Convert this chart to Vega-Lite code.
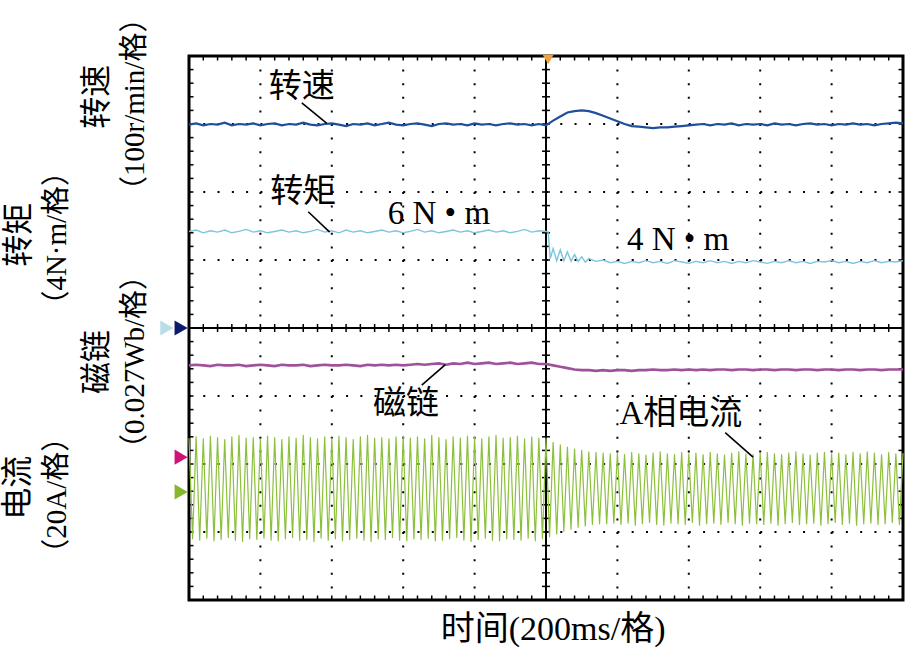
{
  "$schema": "https://vega.github.io/schema/vega-lite/v6.json",
  "width": 714,
  "height": 544,
  "autosize": {"type": "none"},
  "padding": {"left": 189, "top": 56, "right": 2, "bottom": 54},
  "background": "white",
  "view": {"stroke": "#000000", "strokeWidth": 3},
  "config": {"text": {"font": "Liberation Serif, Noto Sans CJK SC", "color": "#000000"}},
  "datasets": {
    "vgrid": [{"x":1,"y":4,"x2":1,"y2":-4},{"x":2,"y":4,"x2":2,"y2":-4},{"x":3,"y":4,"x2":3,"y2":-4},{"x":4,"y":4,"x2":4,"y2":-4},{"x":6,"y":4,"x2":6,"y2":-4},{"x":7,"y":4,"x2":7,"y2":-4},{"x":8,"y":4,"x2":8,"y2":-4},{"x":9,"y":4,"x2":9,"y2":-4}],
    "hgrid": [{"x":0,"y":3,"x2":10,"y2":3},{"x":0,"y":2,"x2":10,"y2":2},{"x":0,"y":1,"x2":10,"y2":1},{"x":0,"y":-1,"x2":10,"y2":-1},{"x":0,"y":-2,"x2":10,"y2":-2},{"x":0,"y":-3,"x2":10,"y2":-3}],
    "cross": [{"x":5,"y":4,"x2":5,"y2":-4},{"x":0,"y":0,"x2":10,"y2":0}],
    "xminor": [{"m":0.2},{"m":0.4},{"m":0.6},{"m":0.8},{"m":1},{"m":1.2},{"m":1.4},{"m":1.6},{"m":1.8},{"m":2},{"m":2.2},{"m":2.4},{"m":2.6},{"m":2.8},{"m":3},{"m":3.2},{"m":3.4},{"m":3.6},{"m":3.8},{"m":4},{"m":4.2},{"m":4.4},{"m":4.6},{"m":4.8},{"m":5},{"m":5.2},{"m":5.4},{"m":5.6},{"m":5.8},{"m":6},{"m":6.2},{"m":6.4},{"m":6.6},{"m":6.8},{"m":7},{"m":7.2},{"m":7.4},{"m":7.6},{"m":7.8},{"m":8},{"m":8.2},{"m":8.4},{"m":8.6},{"m":8.8},{"m":9},{"m":9.2},{"m":9.4},{"m":9.6},{"m":9.8}],
    "yminor": [{"m":-3.8},{"m":-3.6},{"m":-3.4},{"m":-3.2},{"m":-3},{"m":-2.8},{"m":-2.6},{"m":-2.4},{"m":-2.2},{"m":-2},{"m":-1.8},{"m":-1.6},{"m":-1.4},{"m":-1.2},{"m":-1},{"m":-0.8},{"m":-0.6},{"m":-0.4},{"m":-0.2},{"m":0},{"m":0.2},{"m":0.4},{"m":0.6},{"m":0.8},{"m":1},{"m":1.2},{"m":1.4},{"m":1.6},{"m":1.8},{"m":2},{"m":2.2},{"m":2.4},{"m":2.6},{"m":2.8},{"m":3},{"m":3.2},{"m":3.4},{"m":3.6},{"m":3.8}],
    "speed": [{"x":0,"y":2.99},{"x":0.1,"y":3.01},{"x":0.2,"y":2.98},{"x":0.3,"y":3.0},{"x":0.4,"y":2.99},{"x":0.5,"y":3.02},{"x":0.6,"y":2.98},{"x":0.7,"y":3.0},{"x":0.8,"y":2.99},{"x":0.9,"y":3.01},{"x":1.0,"y":2.98},{"x":1.1,"y":3.0},{"x":1.2,"y":3.01},{"x":1.3,"y":2.98},{"x":1.4,"y":3.0},{"x":1.5,"y":2.99},{"x":1.6,"y":3.02},{"x":1.7,"y":2.99},{"x":1.8,"y":2.98},{"x":1.9,"y":3.0},{"x":2.0,"y":3.01},{"x":2.1,"y":2.99},{"x":2.2,"y":2.97},{"x":2.3,"y":3.0},{"x":2.4,"y":2.99},{"x":2.5,"y":3.01},{"x":2.6,"y":2.98},{"x":2.7,"y":3.0},{"x":2.8,"y":3.02},{"x":2.9,"y":2.99},{"x":3.0,"y":2.98},{"x":3.1,"y":3.0},{"x":3.2,"y":3.01},{"x":3.3,"y":2.99},{"x":3.4,"y":2.97},{"x":3.5,"y":3.0},{"x":3.6,"y":3.01},{"x":3.7,"y":2.99},{"x":3.8,"y":3.0},{"x":3.9,"y":2.98},{"x":4.0,"y":3.01},{"x":4.1,"y":2.99},{"x":4.2,"y":3.0},{"x":4.3,"y":2.98},{"x":4.4,"y":3.0},{"x":4.5,"y":3.01},{"x":4.6,"y":2.99},{"x":4.7,"y":3.0},{"x":4.8,"y":2.98},{"x":4.9,"y":3.0},{"x":5.0,"y":2.98},{"x":5.1,"y":3.05},{"x":5.2,"y":3.11},{"x":5.3,"y":3.17},{"x":5.4,"y":3.19},{"x":5.5,"y":3.2},{"x":5.6,"y":3.19},{"x":5.7,"y":3.16},{"x":5.8,"y":3.12},{"x":5.9,"y":3.08},{"x":6.0,"y":3.04},{"x":6.1,"y":3.0},{"x":6.2,"y":2.97},{"x":6.3,"y":2.96},{"x":6.4,"y":2.95},{"x":6.5,"y":2.94},{"x":6.6,"y":2.95},{"x":6.7,"y":2.95},{"x":6.8,"y":2.96},{"x":6.9,"y":2.97},{"x":7.0,"y":2.98},{"x":7.1,"y":2.99},{"x":7.2,"y":3.0},{"x":7.3,"y":2.98},{"x":7.4,"y":3.0},{"x":7.5,"y":2.99},{"x":7.6,"y":3.01},{"x":7.7,"y":2.98},{"x":7.8,"y":3.0},{"x":7.9,"y":2.99},{"x":8.0,"y":3.0},{"x":8.1,"y":2.98},{"x":8.2,"y":3.01},{"x":8.3,"y":2.99},{"x":8.4,"y":3.0},{"x":8.5,"y":2.98},{"x":8.6,"y":3.0},{"x":8.7,"y":3.01},{"x":8.8,"y":2.99},{"x":8.9,"y":3.0},{"x":9.0,"y":2.98},{"x":9.1,"y":3.0},{"x":9.2,"y":2.99},{"x":9.3,"y":3.01},{"x":9.4,"y":2.99},{"x":9.5,"y":3.0},{"x":9.6,"y":2.98},{"x":9.7,"y":3.0},{"x":9.8,"y":3.01},{"x":9.9,"y":3.02},{"x":10.0,"y":3.01}],
    "torque": [{"x":0,"y":1.42},{"x":0.1,"y":1.44},{"x":0.2,"y":1.40},{"x":0.3,"y":1.43},{"x":0.4,"y":1.41},{"x":0.5,"y":1.44},{"x":0.6,"y":1.40},{"x":0.7,"y":1.42},{"x":0.8,"y":1.45},{"x":0.9,"y":1.41},{"x":1.0,"y":1.43},{"x":1.1,"y":1.40},{"x":1.2,"y":1.42},{"x":1.3,"y":1.44},{"x":1.4,"y":1.41},{"x":1.5,"y":1.43},{"x":1.6,"y":1.40},{"x":1.7,"y":1.42},{"x":1.8,"y":1.45},{"x":1.9,"y":1.41},{"x":2.0,"y":1.43},{"x":2.1,"y":1.40},{"x":2.2,"y":1.44},{"x":2.3,"y":1.41},{"x":2.4,"y":1.43},{"x":2.5,"y":1.40},{"x":2.6,"y":1.42},{"x":2.7,"y":1.44},{"x":2.8,"y":1.41},{"x":2.9,"y":1.43},{"x":3.0,"y":1.40},{"x":3.1,"y":1.42},{"x":3.2,"y":1.45},{"x":3.3,"y":1.41},{"x":3.4,"y":1.43},{"x":3.5,"y":1.40},{"x":3.6,"y":1.42},{"x":3.7,"y":1.44},{"x":3.8,"y":1.41},{"x":3.9,"y":1.43},{"x":4.0,"y":1.40},{"x":4.1,"y":1.42},{"x":4.2,"y":1.44},{"x":4.3,"y":1.41},{"x":4.4,"y":1.43},{"x":4.5,"y":1.40},{"x":4.6,"y":1.42},{"x":4.7,"y":1.45},{"x":4.8,"y":1.41},{"x":4.9,"y":1.43},{"x":5.0,"y":1.42},{"x":5.03,"y":1.41},{"x":5.06,"y":1.02},{"x":5.1,"y":1.17},{"x":5.15,"y":0.99},{"x":5.2,"y":1.15},{"x":5.25,"y":0.99},{"x":5.3,"y":1.12},{"x":5.35,"y":0.98},{"x":5.4,"y":1.08},{"x":5.45,"y":0.98},{"x":5.5,"y":1.05},{"x":5.55,"y":0.97},{"x":5.6,"y":1.02},{"x":5.7,"y":0.98},{"x":5.8,"y":1.0},{"x":5.9,"y":0.96},{"x":6.0,"y":0.98},{"x":6.1,"y":0.95},{"x":6.2,"y":0.98},{"x":6.3,"y":0.96},{"x":6.4,"y":0.99},{"x":6.5,"y":0.96},{"x":6.6,"y":0.98},{"x":6.7,"y":0.95},{"x":6.8,"y":0.99},{"x":6.9,"y":0.97},{"x":7.0,"y":0.95},{"x":7.1,"y":0.98},{"x":7.2,"y":0.96},{"x":7.3,"y":0.99},{"x":7.4,"y":0.96},{"x":7.5,"y":0.98},{"x":7.6,"y":0.95},{"x":7.7,"y":0.98},{"x":7.8,"y":0.96},{"x":7.9,"y":0.99},{"x":8.0,"y":0.97},{"x":8.1,"y":0.95},{"x":8.2,"y":0.98},{"x":8.3,"y":0.96},{"x":8.4,"y":0.99},{"x":8.5,"y":0.96},{"x":8.6,"y":0.98},{"x":8.7,"y":0.95},{"x":8.8,"y":0.98},{"x":8.9,"y":0.97},{"x":9.0,"y":0.99},{"x":9.1,"y":0.96},{"x":9.2,"y":0.98},{"x":9.3,"y":0.95},{"x":9.4,"y":0.98},{"x":9.5,"y":0.96},{"x":9.6,"y":0.99},{"x":9.7,"y":0.96},{"x":9.8,"y":0.98},{"x":9.9,"y":0.97},{"x":10.0,"y":0.99}],
    "flux": [{"x":0,"y":-0.55},{"x":0.1,"y":-0.54},{"x":0.2,"y":-0.55},{"x":0.3,"y":-0.56},{"x":0.4,"y":-0.54},{"x":0.5,"y":-0.55},{"x":0.6,"y":-0.55},{"x":0.7,"y":-0.54},{"x":0.8,"y":-0.56},{"x":0.9,"y":-0.55},{"x":1.0,"y":-0.54},{"x":1.1,"y":-0.55},{"x":1.2,"y":-0.56},{"x":1.3,"y":-0.54},{"x":1.4,"y":-0.55},{"x":1.5,"y":-0.55},{"x":1.6,"y":-0.54},{"x":1.7,"y":-0.56},{"x":1.8,"y":-0.55},{"x":1.9,"y":-0.54},{"x":2.0,"y":-0.55},{"x":2.1,"y":-0.55},{"x":2.2,"y":-0.54},{"x":2.3,"y":-0.55},{"x":2.4,"y":-0.56},{"x":2.5,"y":-0.54},{"x":2.6,"y":-0.55},{"x":2.7,"y":-0.54},{"x":2.8,"y":-0.55},{"x":2.9,"y":-0.54},{"x":3.0,"y":-0.55},{"x":3.1,"y":-0.54},{"x":3.2,"y":-0.53},{"x":3.3,"y":-0.54},{"x":3.4,"y":-0.53},{"x":3.5,"y":-0.52},{"x":3.6,"y":-0.54},{"x":3.7,"y":-0.52},{"x":3.8,"y":-0.53},{"x":3.9,"y":-0.51},{"x":4.0,"y":-0.53},{"x":4.1,"y":-0.52},{"x":4.2,"y":-0.51},{"x":4.3,"y":-0.53},{"x":4.4,"y":-0.52},{"x":4.5,"y":-0.51},{"x":4.6,"y":-0.53},{"x":4.7,"y":-0.52},{"x":4.8,"y":-0.51},{"x":4.9,"y":-0.53},{"x":5.0,"y":-0.53},{"x":5.1,"y":-0.55},{"x":5.2,"y":-0.57},{"x":5.3,"y":-0.59},{"x":5.4,"y":-0.61},{"x":5.5,"y":-0.62},{"x":5.6,"y":-0.62},{"x":5.7,"y":-0.63},{"x":5.8,"y":-0.62},{"x":5.9,"y":-0.63},{"x":6.0,"y":-0.62},{"x":6.1,"y":-0.62},{"x":6.2,"y":-0.63},{"x":6.3,"y":-0.62},{"x":6.4,"y":-0.62},{"x":6.5,"y":-0.61},{"x":6.6,"y":-0.62},{"x":6.7,"y":-0.62},{"x":6.8,"y":-0.61},{"x":6.9,"y":-0.62},{"x":7.0,"y":-0.61},{"x":7.1,"y":-0.62},{"x":7.2,"y":-0.61},{"x":7.3,"y":-0.62},{"x":7.4,"y":-0.61},{"x":7.5,"y":-0.61},{"x":7.6,"y":-0.62},{"x":7.7,"y":-0.61},{"x":7.8,"y":-0.61},{"x":7.9,"y":-0.62},{"x":8.0,"y":-0.61},{"x":8.1,"y":-0.61},{"x":8.2,"y":-0.62},{"x":8.3,"y":-0.61},{"x":8.4,"y":-0.61},{"x":8.5,"y":-0.62},{"x":8.6,"y":-0.61},{"x":8.7,"y":-0.61},{"x":8.8,"y":-0.62},{"x":8.9,"y":-0.61},{"x":9.0,"y":-0.61},{"x":9.1,"y":-0.62},{"x":9.2,"y":-0.61},{"x":9.3,"y":-0.61},{"x":9.4,"y":-0.62},{"x":9.5,"y":-0.61},{"x":9.6,"y":-0.61},{"x":9.7,"y":-0.62},{"x":9.8,"y":-0.61},{"x":9.9,"y":-0.61},{"x":10.0,"y":-0.61}],
    "current": [{"x":0,"y":-1.62},{"x":0.05,"y":-3.10},{"x":0.1,"y":-1.60},{"x":0.15,"y":-3.12},{"x":0.2,"y":-1.63},{"x":0.25,"y":-3.09},{"x":0.3,"y":-1.59},{"x":0.35,"y":-3.13},{"x":0.4,"y":-1.61},{"x":0.45,"y":-3.11},{"x":0.5,"y":-1.64},{"x":0.55,"y":-3.08},{"x":0.6,"y":-1.60},{"x":0.65,"y":-3.12},{"x":0.7,"y":-1.58},{"x":0.75,"y":-3.14},{"x":0.8,"y":-1.62},{"x":0.85,"y":-3.10},{"x":0.9,"y":-1.61},{"x":0.95,"y":-3.11},{"x":1.0,"y":-1.63},{"x":1.05,"y":-3.09},{"x":1.1,"y":-1.59},{"x":1.15,"y":-3.12},{"x":1.2,"y":-1.61},{"x":1.25,"y":-3.13},{"x":1.3,"y":-1.64},{"x":1.35,"y":-3.10},{"x":1.4,"y":-1.60},{"x":1.45,"y":-3.08},{"x":1.5,"y":-1.62},{"x":1.55,"y":-3.12},{"x":1.6,"y":-1.58},{"x":1.65,"y":-3.11},{"x":1.7,"y":-1.61},{"x":1.75,"y":-3.14},{"x":1.8,"y":-1.63},{"x":1.85,"y":-3.09},{"x":1.9,"y":-1.60},{"x":1.95,"y":-3.12},{"x":2.0,"y":-1.62},{"x":2.05,"y":-3.10},{"x":2.1,"y":-1.59},{"x":2.15,"y":-3.13},{"x":2.2,"y":-1.61},{"x":2.25,"y":-3.11},{"x":2.3,"y":-1.64},{"x":2.35,"y":-3.09},{"x":2.4,"y":-1.60},{"x":2.45,"y":-3.12},{"x":2.5,"y":-1.58},{"x":2.55,"y":-3.14},{"x":2.6,"y":-1.62},{"x":2.65,"y":-3.10},{"x":2.7,"y":-1.61},{"x":2.75,"y":-3.11},{"x":2.8,"y":-1.63},{"x":2.85,"y":-3.08},{"x":2.9,"y":-1.60},{"x":2.95,"y":-3.12},{"x":3.0,"y":-1.59},{"x":3.05,"y":-3.13},{"x":3.1,"y":-1.62},{"x":3.15,"y":-3.10},{"x":3.2,"y":-1.60},{"x":3.25,"y":-3.11},{"x":3.3,"y":-1.63},{"x":3.35,"y":-3.09},{"x":3.4,"y":-1.58},{"x":3.45,"y":-3.13},{"x":3.5,"y":-1.61},{"x":3.55,"y":-3.12},{"x":3.6,"y":-1.64},{"x":3.65,"y":-3.10},{"x":3.7,"y":-1.60},{"x":3.75,"y":-3.08},{"x":3.8,"y":-1.62},{"x":3.85,"y":-3.12},{"x":3.9,"y":-1.59},{"x":3.95,"y":-3.14},{"x":4.0,"y":-1.61},{"x":4.05,"y":-3.11},{"x":4.1,"y":-1.63},{"x":4.15,"y":-3.09},{"x":4.2,"y":-1.60},{"x":4.25,"y":-3.12},{"x":4.3,"y":-1.58},{"x":4.35,"y":-3.13},{"x":4.4,"y":-1.62},{"x":4.45,"y":-3.10},{"x":4.5,"y":-1.61},{"x":4.55,"y":-3.11},{"x":4.6,"y":-1.59},{"x":4.65,"y":-3.12},{"x":4.7,"y":-1.63},{"x":4.75,"y":-3.09},{"x":4.8,"y":-1.60},{"x":4.85,"y":-3.13},{"x":4.9,"y":-1.62},{"x":4.95,"y":-3.10},{"x":5.0,"y":-1.62},{"x":5.05,"y":-3.07},{"x":5.1,"y":-1.68},{"x":5.15,"y":-3.03},{"x":5.2,"y":-1.72},{"x":5.25,"y":-2.99},{"x":5.3,"y":-1.75},{"x":5.35,"y":-2.96},{"x":5.4,"y":-1.78},{"x":5.45,"y":-2.93},{"x":5.5,"y":-1.80},{"x":5.55,"y":-2.91},{"x":5.6,"y":-1.82},{"x":5.65,"y":-2.89},{"x":5.7,"y":-1.83},{"x":5.75,"y":-2.88},{"x":5.8,"y":-1.84},{"x":5.85,"y":-2.88},{"x":5.9,"y":-1.85},{"x":5.95,"y":-2.87},{"x":6.0,"y":-1.84},{"x":6.05,"y":-2.89},{"x":6.1,"y":-1.86},{"x":6.15,"y":-2.87},{"x":6.2,"y":-1.83},{"x":6.25,"y":-2.90},{"x":6.3,"y":-1.85},{"x":6.35,"y":-2.88},{"x":6.4,"y":-1.87},{"x":6.45,"y":-2.86},{"x":6.5,"y":-1.84},{"x":6.55,"y":-2.89},{"x":6.6,"y":-1.82},{"x":6.65,"y":-2.90},{"x":6.7,"y":-1.85},{"x":6.75,"y":-2.87},{"x":6.8,"y":-1.86},{"x":6.85,"y":-2.88},{"x":6.9,"y":-1.83},{"x":6.95,"y":-2.89},{"x":7.0,"y":-1.85},{"x":7.05,"y":-2.86},{"x":7.1,"y":-1.84},{"x":7.15,"y":-2.90},{"x":7.2,"y":-1.86},{"x":7.25,"y":-2.88},{"x":7.3,"y":-1.83},{"x":7.35,"y":-2.87},{"x":7.4,"y":-1.85},{"x":7.45,"y":-2.89},{"x":7.5,"y":-1.87},{"x":7.55,"y":-2.86},{"x":7.6,"y":-1.84},{"x":7.65,"y":-2.88},{"x":7.7,"y":-1.82},{"x":7.75,"y":-2.90},{"x":7.8,"y":-1.85},{"x":7.85,"y":-2.87},{"x":7.9,"y":-1.86},{"x":7.95,"y":-2.88},{"x":8.0,"y":-1.84},{"x":8.05,"y":-2.89},{"x":8.1,"y":-1.83},{"x":8.15,"y":-2.87},{"x":8.2,"y":-1.85},{"x":8.25,"y":-2.90},{"x":8.3,"y":-1.86},{"x":8.35,"y":-2.88},{"x":8.4,"y":-1.84},{"x":8.45,"y":-2.86},{"x":8.5,"y":-1.82},{"x":8.55,"y":-2.89},{"x":8.6,"y":-1.85},{"x":8.65,"y":-2.88},{"x":8.7,"y":-1.87},{"x":8.75,"y":-2.87},{"x":8.8,"y":-1.84},{"x":8.85,"y":-2.90},{"x":8.9,"y":-1.83},{"x":8.95,"y":-2.88},{"x":9.0,"y":-1.85},{"x":9.05,"y":-2.86},{"x":9.1,"y":-1.84},{"x":9.15,"y":-2.89},{"x":9.2,"y":-1.86},{"x":9.25,"y":-2.87},{"x":9.3,"y":-1.83},{"x":9.35,"y":-2.90},{"x":9.4,"y":-1.85},{"x":9.45,"y":-2.88},{"x":9.5,"y":-1.82},{"x":9.55,"y":-2.87},{"x":9.6,"y":-1.84},{"x":9.65,"y":-2.89},{"x":9.7,"y":-1.86},{"x":9.75,"y":-2.88},{"x":9.8,"y":-1.83},{"x":9.85,"y":-2.86},{"x":9.9,"y":-1.85},{"x":9.95,"y":-2.89},{"x":10.0,"y":-1.84}],
    "leaders": [{"x":1.58,"y":3.31,"x2":1.93,"y2":3.01},{"x":1.67,"y":1.71,"x2":1.97,"y2":1.41},{"x":3.26,"y":-0.84,"x2":3.59,"y2":-0.54},{"x":7.51,"y":-1.54,"x2":7.90,"y2":-1.90}],
    "annot": [{"x":1.58,"y":3.54,"label":"转速"},{"x":1.60,"y":2.0,"label":"转矩"},{"x":3.50,"y":1.68,"label":"6 N • m"},{"x":6.85,"y":1.29,"label":"4 N • m"},{"x":3.04,"y":-1.12,"label":"磁链"},{"x":6.89,"y":-1.26,"label":"A相电流"}],
    "leftNames": [{"x":-1.29,"y":3.40,"label":"转速"},{"x":-2.38,"y":1.37,"label":"转矩"},{"x":-1.29,"y":-0.50,"label":"磁链"},{"x":-2.39,"y":-2.35,"label":"电流"}],
    "leftUnits": [{"x":-0.756,"y":3.29,"label":"（100r/min/格）"},{"x":-1.85,"y":1.32,"label":"（4N·m/格）"},{"x":-0.756,"y":-0.50,"label":"（0.027Wb/格）"},{"x":-1.85,"y":-2.46,"label":"（20A/格）"}],
    "xtitle": [{"x":5.10,"y":-4.44,"label":"时间(200ms/格)"}],
    "markers": [{"x":-0.31,"y":0,"ch":"torque"},{"x":-0.11,"y":0,"ch":"speed"},{"x":-0.11,"y":-1.90,"ch":"flux"},{"x":-0.11,"y":-2.41,"ch":"current"}],
    "trigger": [{"x":5.03,"y":3.95}]
  },
  "layer": [
    {"data": {"name": "xminor"}, "mark": {"type": "tick", "orient": "vertical", "color": "#000000", "size": 8, "thickness": 1.5, "opacity": 1},
     "encoding": {"x": {"field": "m", "type": "quantitative", "scale": {"domain": [0, 10], "nice": false, "zero": false}, "axis": null}, "y": {"datum": 0, "type": "quantitative", "scale": {"domain": [-4, 4], "nice": false, "zero": false}, "axis": null}}},
    {"data": {"name": "xminor"}, "mark": {"type": "tick", "orient": "vertical", "color": "#000000", "size": 9, "thickness": 1.5, "opacity": 1, "clip": true},
     "encoding": {"x": {"field": "m", "type": "quantitative", "scale": {"domain": [0, 10], "nice": false, "zero": false}, "axis": null}, "y": {"datum": 4, "type": "quantitative", "scale": {"domain": [-4, 4], "nice": false, "zero": false}, "axis": null}}},
    {"data": {"name": "xminor"}, "mark": {"type": "tick", "orient": "vertical", "color": "#000000", "size": 9, "thickness": 1.5, "opacity": 1, "clip": true},
     "encoding": {"x": {"field": "m", "type": "quantitative", "scale": {"domain": [0, 10], "nice": false, "zero": false}, "axis": null}, "y": {"datum": -4, "type": "quantitative", "scale": {"domain": [-4, 4], "nice": false, "zero": false}, "axis": null}}},
    {"data": {"name": "yminor"}, "mark": {"type": "tick", "orient": "horizontal", "color": "#000000", "size": 8, "thickness": 1.5, "opacity": 1},
     "encoding": {"y": {"field": "m", "type": "quantitative", "scale": {"domain": [-4, 4], "nice": false, "zero": false}, "axis": null}, "x": {"datum": 5, "type": "quantitative", "scale": {"domain": [0, 10], "nice": false, "zero": false}, "axis": null}}},
    {"data": {"name": "yminor"}, "mark": {"type": "tick", "orient": "horizontal", "color": "#000000", "size": 9, "thickness": 1.5, "opacity": 1, "clip": true},
     "encoding": {"y": {"field": "m", "type": "quantitative", "scale": {"domain": [-4, 4], "nice": false, "zero": false}, "axis": null}, "x": {"datum": 0, "type": "quantitative", "scale": {"domain": [0, 10], "nice": false, "zero": false}, "axis": null}}},
    {"data": {"name": "yminor"}, "mark": {"type": "tick", "orient": "horizontal", "color": "#000000", "size": 9, "thickness": 1.5, "opacity": 1, "clip": true},
     "encoding": {"y": {"field": "m", "type": "quantitative", "scale": {"domain": [-4, 4], "nice": false, "zero": false}, "axis": null}, "x": {"datum": 10, "type": "quantitative", "scale": {"domain": [0, 10], "nice": false, "zero": false}, "axis": null}}},
    {
      "encoding": {
        "x": {"field": "x", "type": "quantitative", "scale": {"domain": [0, 10], "nice": false, "zero": false}, "axis": null},
        "y": {"field": "y", "type": "quantitative", "scale": {"domain": [-4, 4], "nice": false, "zero": false}, "axis": null}
      },
      "layer": [
        {"data": {"name": "vgrid"}, "mark": {"type": "rule", "color": "#000000", "strokeWidth": 2, "strokeDash": [2, 11.6]}, "encoding": {"x2": {"field": "x2"}, "y2": {"field": "y2"}}},
        {"data": {"name": "hgrid"}, "mark": {"type": "rule", "color": "#000000", "strokeWidth": 2, "strokeDash": [2, 12.28]}, "encoding": {"x2": {"field": "x2"}, "y2": {"field": "y2"}}},
        {"data": {"name": "cross"}, "mark": {"type": "rule", "color": "#000000", "strokeWidth": 2}, "encoding": {"x2": {"field": "x2"}, "y2": {"field": "y2"}}},
        {"data": {"name": "current"}, "mark": {"type": "line", "color": "#8cc03c", "strokeWidth": 1.2, "strokeJoin": "round"}},
        {"data": {"name": "flux"}, "mark": {"type": "line", "color": "#9e529b", "strokeWidth": 2.6}},
        {"data": {"name": "torque"}, "mark": {"type": "line", "color": "#7ec4dc", "strokeWidth": 1.4}},
        {"data": {"name": "speed"}, "mark": {"type": "line", "color": "#1f4f9b", "strokeWidth": 2.2}},
        {"data": {"name": "leaders"}, "mark": {"type": "rule", "color": "#000000", "strokeWidth": 1.6}, "encoding": {"x2": {"field": "x2"}, "y2": {"field": "y2"}}},
        {"data": {"name": "annot"}, "mark": {"type": "text", "fontSize": 33, "align": "center", "baseline": "middle"}, "encoding": {"text": {"field": "label"}}},
        {"data": {"name": "leftNames"}, "mark": {"type": "text", "fontSize": 32, "align": "center", "baseline": "middle", "angle": 270}, "encoding": {"text": {"field": "label"}}},
        {"data": {"name": "leftUnits"}, "mark": {"type": "text", "fontSize": 29, "align": "center", "baseline": "middle", "angle": 270}, "encoding": {"text": {"field": "label"}}},
        {"data": {"name": "xtitle"}, "mark": {"type": "text", "fontSize": 34, "align": "center", "baseline": "middle"}, "encoding": {"text": {"field": "label"}}},
        {"data": {"name": "markers"}, "mark": {"type": "point", "shape": "triangle-right", "filled": true, "size": 230, "opacity": 1}, "encoding": {"color": {"field": "ch", "type": "nominal", "scale": {"domain": ["torque", "speed", "flux", "current"], "range": ["#b9dde5", "#0c1a6e", "#cf1477", "#86b82e"]}, "legend": null}}},
        {"data": {"name": "trigger"}, "mark": {"type": "point", "shape": "triangle-down", "filled": true, "size": 120, "color": "#f2a13a", "opacity": 1}}
      ]
    }
  ]
}
